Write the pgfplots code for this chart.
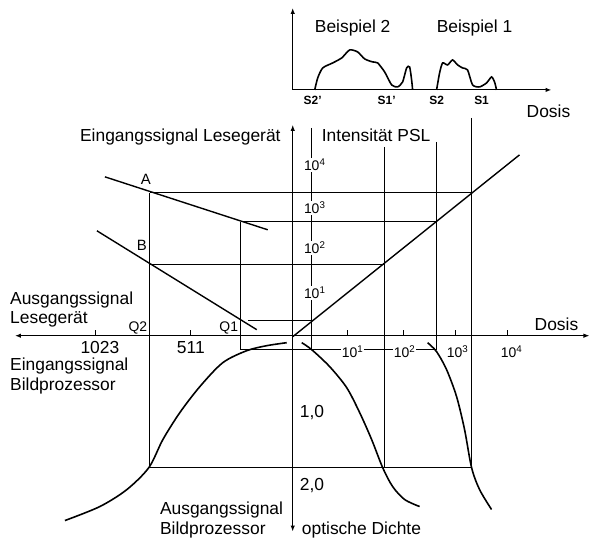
\documentclass[border=0pt]{standalone}
\usepackage{fontspec}
\setmainfont{Liberation Sans}
\usepackage{pgfplots}
\pgfplotsset{compat=1.18}
\usetikzlibrary{arrows.meta}

% all coordinates are in pixels of the reference (y counted downwards)
\pgfplotsset{
  ln/.style={black, line width=1.1pt, no markers},
  cv/.style={black, line width=1.6pt, smooth, no markers},
  ar/.style={-{Latex[length=6bp,width=4.5bp]}},
}
\tikzset{
  lab/.style={inner sep=0pt, font=\fontsize{17.5}{19}\selectfont},
  num/.style={inner sep=1pt, fill=white, font=\fontsize{14}{16}\selectfont},
  sl/.style={inner sep=0pt, font=\bfseries\fontsize{12}{14}\selectfont},
}

\begin{document}
\begin{tikzpicture}
\begin{axis}[
    x=1bp, y=1bp,
    xmin=0, xmax=590, ymin=0, ymax=542,
    y dir=reverse,
    hide axis,
    clip=false,
]
\draw[draw=none] (axis cs:0,0) rectangle (axis cs:590,542);

% --- top example: histograms over dose
\addplot[ln, ar] coordinates {(293,90) (293,8)};
\addplot[ln, ar] coordinates {(293,90) (552,90)};
\addplot[cv, tension=0.4] coordinates {
  (315,90) (318,78) (323,68) (333,63) (342,58) (350,50) (358,52) (365,59)
  (373,62) (378,63) (385,72) (392,85) (398,87) (403,82) (407,68) (410,67)
  (412,80) (413,90)};
\addplot[cv, tension=0.4] coordinates {
  (437,90) (440,73) (443,63) (448,65) (453,60) (458,65) (463,68) (468,70)
  (473,85) (480,87) (487,83) (492,77) (495,82) (497,90)};

% --- main axes
\addplot[ln, {Latex[length=6bp,width=4.5bp]}-{Latex[length=6bp,width=4.5bp]}]
  coordinates {(293,532) (293,125)};
\addplot[ln, {Latex[length=6bp,width=4.5bp]}-{Latex[length=6bp,width=4.5bp]}]
  coordinates {(15,336) (590,336)};
\addplot[ln] coordinates {(312,128) (312,350)};

% ticks on the dose / signal axis
\addplot[ln] coordinates {(96,336) (96,330)};
\addplot[ln] coordinates {(191,336) (191,330)};
\addplot[ln] coordinates {(348,336) (348,330)};
\addplot[ln] coordinates {(404,336) (404,330)};
\addplot[ln] coordinates {(456,336) (456,330)};
\addplot[ln] coordinates {(508,336) (508,330)};

% --- characteristic lines
\addplot[ln, line width=1.4pt] coordinates {(293,337) (520,155)};
\addplot[ln, line width=1.4pt] coordinates {(105,177) (268,230)};
\addplot[ln, line width=1.4pt] coordinates {(97,231) (257,330)};

% --- construction lines
\addplot[ln] coordinates {(150,193) (472,193)};
\addplot[ln] coordinates {(241,222) (437,222)};
\addplot[ln] coordinates {(150,265) (385,265)};
\addplot[ln] coordinates {(248,321) (312,321)};
\addplot[ln] coordinates {(241,350) (437,350)};
\addplot[ln] coordinates {(150,468) (472,468)};
\addplot[ln] coordinates {(150,193) (150,468)};
\addplot[ln] coordinates {(241,222) (241,350)};
\addplot[ln] coordinates {(385,147) (385,468)};
\addplot[ln] coordinates {(437,142) (437,350)};
\addplot[ln] coordinates {(472,118) (472,468)};

% --- density curves
\addplot[cv] coordinates {
  (65,521) (100,507) (127,490) (149,468) (163,440) (180,413) (200,387)
  (223,363) (247,351) (267,346) (287,343)};
\addplot[cv] coordinates {
  (302,343) (312,350) (330,367) (347,388) (360,413) (372,440) (383,468)
  (393,487) (405,500) (420,507)};
\addplot[cv] coordinates {
  (428,343) (437,352) (447,370) (457,397) (465,430) (472,468) (480,490)
  (492,510)};

% --- texts
\node[lab] at (axis cs:353,28) {Beispiel 2};
\node[lab] at (axis cs:475,28) {Beispiel 1};
\node[sl] at (axis cs:313,100) {S2'};
\node[sl] at (axis cs:387,100) {S1'};
\node[sl] at (axis cs:437,100) {S2};
\node[sl] at (axis cs:482,100) {S1};
\node[lab] at (axis cs:549,111) {Dosis};

\node[lab, anchor=west] at (axis cs:80,137) {Eingangssignal Lesegerät};
\node[lab, anchor=west] at (axis cs:322,135) {Intensität PSL};
\node[num] at (axis cs:315,165) {10\textsuperscript{4}};
\node[num] at (axis cs:315,208) {10\textsuperscript{3}};
\node[num] at (axis cs:315,248) {10\textsuperscript{2}};
\node[num] at (axis cs:315,293) {10\textsuperscript{1}};

\node[lab, font=\fontsize{15}{17}\selectfont] at (axis cs:146,180) {A};
\node[lab, font=\fontsize{15}{17}\selectfont] at (axis cs:142,246) {B};
\node[lab, anchor=west] at (axis cs:10,300) {Ausgangssignal};
\node[lab, anchor=west] at (axis cs:10,320) {Lesegerät};
\node[lab, font=\fontsize{14}{16}\selectfont] at (axis cs:138,328) {Q2};
\node[lab, font=\fontsize{14}{16}\selectfont] at (axis cs:229,328) {Q1};
\node[lab] at (axis cs:100,348) {1023};
\node[lab] at (axis cs:191,348) {511};
\node[lab, anchor=west] at (axis cs:10,366) {Eingangssignal};
\node[lab, anchor=west] at (axis cs:10,386) {Bildprozessor};
\node[lab] at (axis cs:557,325) {Dosis};

\node[num] at (axis cs:353,352) {10\textsuperscript{1}};
\node[num] at (axis cs:405,352) {10\textsuperscript{2}};
\node[num] at (axis cs:458,352) {10\textsuperscript{3}};
\node[num] at (axis cs:512,352) {10\textsuperscript{4}};

\node[lab, anchor=west] at (axis cs:300,413) {1,0};
\node[lab, anchor=west] at (axis cs:300,486) {2,0};
\node[lab, anchor=west] at (axis cs:160,510) {Ausgangssignal};
\node[lab, anchor=west] at (axis cs:160,530) {Bildprozessor};
\node[lab, anchor=west] at (axis cs:302,530) {optische Dichte};
\end{axis}
\end{tikzpicture}
\end{document}
